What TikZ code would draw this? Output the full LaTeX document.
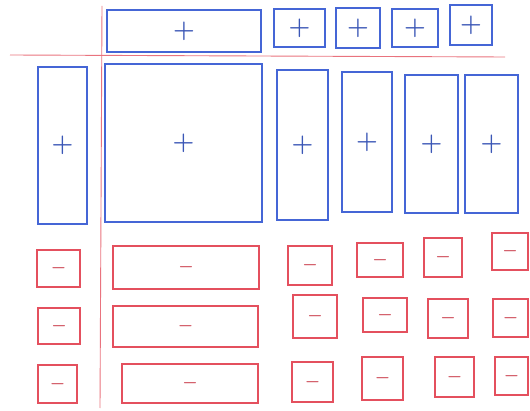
\documentclass[tikz,border=0pt]{standalone}
\usepackage{amsmath,amssymb}
\usepackage{xcolor}
\definecolor{penBlue}{HTML}{4566D6}
\definecolor{penRed}{HTML}{E4505E}
\tikzset{
  plus_box/.style={rectangle, inner sep=0pt, line width=1.3pt, draw=penBlue, text=penBlue!85!black, font=\fontsize{24}{26}\selectfont\boldmath},
  minus_box/.style={rectangle, inner sep=0pt, line width=1.3pt, draw=penRed, text=penRed!90!black, font=\fontsize{17}{19}\selectfont\boldmath},
  axis_line/.style={line width=0.9pt, draw=penRed!80}
}

\begin{document}
\begin{tikzpicture}[x=1pt, y=-1pt]
        \useasboundingbox (0,0) rectangle (530,411);
        % separating lines
        \coordinate (hl) at (10,55);
        \coordinate (hr) at (505,57);
        \coordinate (vt) at (102,6);
        \coordinate (vb) at (100,408);
        \draw[axis_line] (hl) -- (hr);
        \draw[axis_line] (vt) -- (vb);
        % top row
        \node[plus_box, minimum width=154pt, minimum height=42pt] (tw) at (184, 31) {$+$};
        \node[plus_box, minimum width=51pt, minimum height=38pt] (t1) at (299.5, 28) {$+$};
        \node[plus_box, minimum width=44pt, minimum height=40pt] (t2) at (358, 28) {$+$};
        \node[plus_box, minimum width=46pt, minimum height=38pt] (t3) at (415, 28) {$+$};
        \node[plus_box, minimum width=42pt, minimum height=40pt] (t4) at (471, 25) {$+$};
        % second row
        \node[plus_box, minimum width=49pt, minimum height=157pt] (lt) at (62.5, 145.5) {$+$};
        \node[plus_box, minimum width=157pt, minimum height=158pt] (sq) at (183.5, 143) {$+$};
        \node[plus_box, minimum width=51pt, minimum height=150pt] (c1) at (302.5, 145) {$+$};
        \node[plus_box, minimum width=50pt, minimum height=140pt] (c2) at (367, 142) {$+$};
        \node[plus_box, minimum width=53pt, minimum height=138pt] (c3) at (431.5, 144) {$+$};
        \node[plus_box, minimum width=53pt, minimum height=138pt] (c4) at (491.5, 144) {$+$};
        % left column
        \node[minus_box, minimum width=43pt, minimum height=37pt] (l1) at (58.5, 268.5) {$-$};
        \node[minus_box, minimum width=42pt, minimum height=36pt] (l2) at (59, 326) {$-$};
        \node[minus_box, minimum width=39pt, minimum height=38pt] (l3) at (57.5, 384) {$-$};
        % wide column
        \node[minus_box, minimum width=146pt, minimum height=43pt] (w1) at (186, 267.5) {$-$};
        \node[minus_box, minimum width=145pt, minimum height=41pt] (w2) at (185.5, 326.5) {$-$};
        \node[minus_box, minimum width=136pt, minimum height=39pt] (w3) at (190, 383.5) {$-$};
        % small boxes, first row
        \node[minus_box, minimum width=44pt, minimum height=39pt] (r11) at (310, 265.5) {$-$};
        \node[minus_box, minimum width=46pt, minimum height=34pt] (r12) at (380, 260) {$-$};
        \node[minus_box, minimum width=38pt, minimum height=39pt] (r13) at (443, 257.5) {$-$};
        \node[minus_box, minimum width=36pt, minimum height=37pt] (r14) at (510, 251.5) {$-$};
        % second row
        \node[minus_box, minimum width=44pt, minimum height=43pt] (r21) at (315, 316.5) {$-$};
        \node[minus_box, minimum width=44pt, minimum height=34pt] (r22) at (385, 315) {$-$};
        \node[minus_box, minimum width=40pt, minimum height=39pt] (r23) at (448, 318.5) {$-$};
        \node[minus_box, minimum width=35pt, minimum height=38pt] (r24) at (510.5, 318) {$-$};
        % third row
        \node[minus_box, minimum width=41pt, minimum height=40pt] (r31) at (312.5, 382) {$-$};
        \node[minus_box, minimum width=41pt, minimum height=43pt] (r32) at (382.5, 378.5) {$-$};
        \node[minus_box, minimum width=39pt, minimum height=40pt] (r33) at (454.5, 377) {$-$};
        \node[minus_box, minimum width=33pt, minimum height=38pt] (r34) at (511.5, 376) {$-$};
    \end{tikzpicture}
\end{document}
